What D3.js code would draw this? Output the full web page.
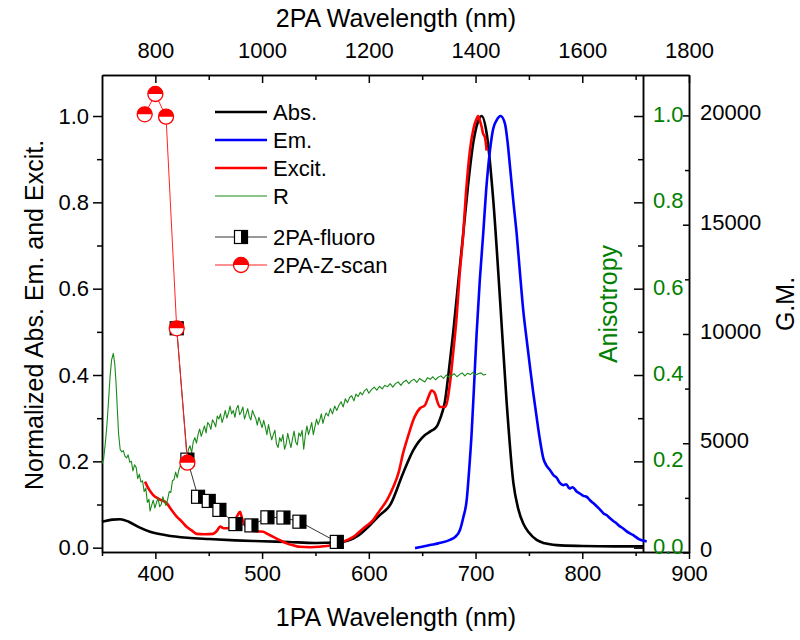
<!DOCTYPE html>
<html><head><meta charset="utf-8">
<script src="https://cdn.jsdelivr.net/npm/d3@7"></script>
<style>
body{margin:0;background:#fff;}
svg{font-family:"Liberation Sans",Arial,sans-serif;}
</style></head><body>
<svg id="c" width="800" height="640"></svg>
<script>
// ---- data ----
const absWl=[350,360,367,375,385,395,410,430,450,475,500,525,550,570,580,590,601,610,620,632,641.7,652.6,658,663.5,667,671.4,675,679,684,688.5,693,698,702,705.7,710.4,716.6,723,729,735.5,740,744.7,750,757.2,765,776,800,830,857];
const absVal=[0.06,0.065,0.066,0.06,0.047,0.037,0.029,0.023,0.02,0.017,0.015,0.013,0.011,0.012,0.016,0.028,0.052,0.075,0.099,0.172,0.226,0.261,0.27,0.28,0.30,0.34,0.41,0.497,0.62,0.728,0.84,0.94,0.985,1.0,0.96,0.805,0.573,0.342,0.149,0.09,0.056,0.035,0.018,0.01,0.006,0.004,0.003,0.003];

const emWl=[643.3,650,657.3,665,676,681,685.4,688.5,691.7,694,696.3,698.5,701,704,707.2,710,713.5,716.5,719.7,723.5,727.6,730,732.3,735.5,738.5,741.5,744.7,748,751,754,757.2,760,763.5,766.5,769.7,773,776,779,782.2,785,788,791,794.7,798,801,804,807.2,810,813,816,819.7,823,826,829,832.2,835,838,841,844.7,847,850,853,855,858,860.3];
const emVal=[-0.001,0.002,0.006,0.01,0.018,0.025,0.041,0.07,0.11,0.18,0.264,0.37,0.496,0.62,0.728,0.83,0.92,0.97,0.99,1.0,0.982,0.94,0.882,0.80,0.728,0.64,0.55,0.48,0.419,0.36,0.303,0.255,0.207,0.19,0.18,0.168,0.162,0.15,0.145,0.147,0.137,0.14,0.13,0.125,0.12,0.118,0.11,0.104,0.097,0.09,0.08,0.075,0.068,0.062,0.056,0.05,0.045,0.039,0.033,0.03,0.025,0.02,0.018,0.016,0.014];

const exWl=[390.3,394,398,404,410.6,415,420,425,429,434,438.7,446,454,458,460.6,464,468,472,474.6,477,479.3,481,483,488.7,495,501,505,510.5,517,523,530,535.5,545,554,560,566.7,575,585.5,595,604,610.5,617,623,628,632,637,641.7,648,652.6,656,658.8,662,664,666.7,671.4,676,679,682.3,685,688.5,691,694.7,698,700.4,702.5,704,705.7,707,708.8,710.4];
const exVal=[0.153,0.135,0.122,0.112,0.103,0.088,0.072,0.06,0.049,0.04,0.032,0.031,0.032,0.04,0.049,0.045,0.045,0.055,0.064,0.075,0.083,0.07,0.056,0.041,0.038,0.037,0.032,0.025,0.017,0.01,0.005,0.002,0.001,0.002,0.004,0.006,0.013,0.025,0.045,0.064,0.087,0.11,0.141,0.175,0.218,0.26,0.296,0.323,0.33,0.35,0.364,0.357,0.34,0.326,0.326,0.38,0.45,0.535,0.63,0.728,0.82,0.92,0.97,0.99,1.0,0.99,0.975,0.96,0.951,0.92];

// anisotropy R: [wavelength, value]
const rData=[[350,0.195],[351.5,0.205],[353,0.24],[354.5,0.28],[356,0.335],[357.5,0.395],[359,0.435],[360.6,0.45],[362,0.425],[363.2,0.38],[364.5,0.315],[365.5,0.265],[367,0.228],[368.5,0.222],[370,0.225],[371.5,0.212],[373,0.208],[374.5,0.215],[376,0.198],[377.5,0.2],[379,0.178],[380.5,0.192],[382,0.186],[383.5,0.16],[385,0.17],[386.5,0.152],[388,0.155],[389.5,0.13],[391,0.138],[392.5,0.105],[394,0.112],[395,0.085],[396.5,0.098],[398,0.11],[399.5,0.092],[401,0.104],[402.5,0.115],[404,0.095],[405.5,0.1],[407,0.118],[408.5,0.105],[410,0.098],[411.5,0.112],[413,0.13],[414.5,0.128],[416,0.155],[417.5,0.158],[419,0.175],[420.5,0.162],[422,0.18],[423.5,0.19],[425,0.185],[426.5,0.205],[428,0.21],[429.5,0.2],[431,0.228],[432.5,0.236],[434,0.22],[435.5,0.245],[437,0.255],[438.5,0.242],[440,0.262],[441.5,0.275],[443,0.258],[444.5,0.27],[446,0.282],[447.5,0.266],[449,0.29],[450.5,0.285],[452,0.274],[453.5,0.296],[455,0.29],[456.5,0.28],[458,0.305],[459.5,0.298],[461,0.31],[462.5,0.29],[464,0.302],[465.5,0.318],[467,0.3],[468.5,0.312],[470,0.328],[471.5,0.31],[473,0.318],[474.5,0.302],[476,0.322],[477.5,0.33],[479,0.308],[480.5,0.315],[482,0.326],[483.5,0.298],[485,0.31],[486.5,0.322],[488,0.304],[489.5,0.296],[491,0.318],[492.5,0.308],[494,0.3],[495.5,0.284],[497,0.302],[498.5,0.29],[500,0.278],[501.5,0.295],[503,0.28],[504.5,0.262],[506,0.285],[507.5,0.266],[509,0.25],[510.5,0.262],[512,0.272],[513.5,0.24],[515,0.232],[516.5,0.255],[518,0.246],[519.5,0.262],[521,0.228],[522.5,0.24],[524,0.265],[525.5,0.248],[527,0.232],[528.5,0.252],[530,0.27],[531.5,0.245],[533,0.238],[534.5,0.266],[536,0.258],[537.5,0.272],[539,0.228],[540.5,0.26],[542,0.282],[543.5,0.262],[545,0.275],[546.5,0.29],[548,0.262],[549.5,0.28],[551,0.298],[552.5,0.285],[554,0.295],[555.5,0.31],[557,0.288],[558.5,0.302],[560,0.312],[562,0.305],[564,0.322],[566,0.31],[568,0.328],[570,0.318],[572,0.33],[574,0.338],[576,0.326],[578,0.345],[580,0.336],[582,0.348],[584,0.352],[586,0.34],[588,0.356],[590,0.35],[592,0.36],[594,0.354],[596,0.364],[598,0.368],[600,0.358],[602.5,0.366],[605,0.372],[607.5,0.365],[610,0.374],[612.5,0.368],[615,0.376],[617.5,0.373],[620,0.38],[622.5,0.372],[625,0.38],[627.5,0.384],[630,0.376],[632.5,0.384],[635,0.388],[637.5,0.38],[640,0.387],[642.5,0.39],[645,0.383],[647.5,0.392],[650,0.388],[652.5,0.384],[655,0.394],[657.5,0.39],[660,0.396],[662.5,0.389],[665,0.395],[667.5,0.398],[670,0.392],[672.5,0.4],[675,0.395],[677.5,0.399],[680,0.403],[682.5,0.396],[685,0.401],[687.5,0.405],[690,0.398],[692.5,0.404],[695,0.401],[697.5,0.406],[700,0.4],[702.5,0.403],[705,0.405],[707.5,0.4],[710,0.402]];

const fluoroWl=[840,860,880,900,920,950,980,1010,1040,1070,1140];
const fluoroGM=[10260,4250,2550,2360,1950,1300,1240,1610,1600,1410,485];
const zscanWl=[780,800,820,840,860];
const zscanGM=[20050,20980,19945,10260,4110];

const legendLines=["Abs.","Em.","Excit.","R"];
const legendMarkers=["2PA-fluoro","2PA-Z-scan"];
const bottomTicks=[400,500,600,700,800,900];
const topTicks=[800,1000,1200,1400,1600,1800];
const leftTicks=[0,0.2,0.4,0.6,0.8,1.0];
const gmTicks=[0,5000,10000,15000,20000];

// ---- scales ----
const L=102,R=689,RA=643,T=75,B=552;
const x=d3.scaleLinear().domain([350,900]).range([L,R]);
const xTop=d3.scaleLinear().domain([700,1800]).range([L,R]);
const y=d3.scaleLinear().domain([-0.01,1.095]).range([B,T]);
const yGM=d3.scaleLinear().domain([0,21850]).range([552.5,T]);

const svg=d3.select("#c");
const green="#008000";
const tf='"Liberation Sans",Arial,sans-serif';

function styleAxis(g,color){
  g.selectAll("path,line").attr("stroke",color||"#000").attr("stroke-width",1.5);
  g.selectAll("text").attr("font-size",22).attr("fill",color||"#000").attr("font-family",tf);
}

// bottom
let g=svg.append("g").attr("transform",`translate(0,${B})`)
  .call(d3.axisBottom(x).tickValues(bottomTicks).tickSizeInner(7).tickSizeOuter(0).tickPadding(6).tickFormat(d3.format("d")));
styleAxis(g);
g=svg.append("g").attr("transform",`translate(0,${B})`)
  .call(d3.axisBottom(x).tickValues([350,450,550,650,750,850]).tickSizeInner(4).tickSizeOuter(0).tickFormat(""));
styleAxis(g);
// top
g=svg.append("g").attr("transform",`translate(0,${T})`)
  .call(d3.axisTop(xTop).tickValues(topTicks).tickSizeInner(-8).tickSizeOuter(0).tickPadding(17).tickFormat(d3.format("d")));
styleAxis(g);
g=svg.append("g").attr("transform",`translate(0,${T})`)
  .call(d3.axisTop(xTop).tickValues([900,1100,1300,1500,1700]).tickSizeInner(-5).tickSizeOuter(0).tickFormat(""));
styleAxis(g);
// left
g=svg.append("g").attr("transform",`translate(${L},0)`)
  .call(d3.axisLeft(y).tickValues(leftTicks).tickSizeInner(9).tickSizeOuter(0).tickPadding(4).tickFormat(d3.format(".1f")));
styleAxis(g);
g=svg.append("g").attr("transform",`translate(${L},0)`)
  .call(d3.axisLeft(y).tickValues([0.1,0.3,0.5,0.7,0.9]).tickSizeInner(5).tickSizeOuter(0).tickFormat(""));
styleAxis(g);
// anisotropy axis
g=svg.append("g").attr("transform",`translate(${RA},0)`)
  .call(d3.axisRight(y).tickValues(leftTicks).tickSizeInner(-9).tickSizeOuter(0).tickPadding(10).tickFormat(d3.format(".1f")));
styleAxis(g);
g.selectAll("text").attr("fill",green).attr("dy","0.25em");
g=svg.append("g").attr("transform",`translate(${RA},0)`)
  .call(d3.axisRight(y).tickValues([0.1,0.3,0.5,0.7,0.9]).tickSizeInner(-5).tickSizeOuter(0).tickFormat(""));
styleAxis(g);
// GM axis
g=svg.append("g").attr("transform",`translate(${R},0)`)
  .call(d3.axisRight(yGM).tickValues(gmTicks).tickSizeInner(-6).tickSizeOuter(0).tickPadding(11).tickFormat(d3.format("d")));
styleAxis(g);
g.selectAll("text").attr("dy","0.2em");
g=svg.append("g").attr("transform",`translate(${R},0)`)
  .call(d3.axisRight(yGM).tickValues([2500,7500,12500,17500]).tickSizeInner(-4).tickSizeOuter(0).tickFormat(""));
styleAxis(g);

// titles
svg.append("text").attr("x",396).attr("y",27).attr("text-anchor","middle").attr("font-size",25).attr("font-family",tf).text("2PA Wavelength (nm)");
svg.append("text").attr("x",396).attr("y",626).attr("text-anchor","middle").attr("font-size",25).attr("font-family",tf).text("1PA Wavelength (nm)");
svg.append("text").attr("transform","translate(43,315) rotate(-90)").attr("text-anchor","middle").attr("font-size",25).attr("font-family",tf).text("Normalized Abs. Em. and Excit.");
svg.append("text").attr("transform","translate(617,304) rotate(-90)").attr("text-anchor","middle").attr("font-size",25).attr("font-family",tf).attr("fill",green).text("Anisotropy");
svg.append("text").attr("transform","translate(794,304) rotate(-90)").attr("text-anchor","middle").attr("font-size",25).attr("font-family",tf).text("G.M.");

// curves
function drawCurve(pts,color,w,curve){
  svg.append("path").datum(pts).attr("fill","none").attr("stroke",color).attr("stroke-width",w)
    .attr("stroke-linejoin","round").attr("d",d3.line().curve(curve).x(d=>x(d[0])).y(d=>y(d[1])));
}
const zip=(a,b)=>a.map((d,i)=>[d,b[i]]);
drawCurve(zip(absWl,absVal),"#000",2.6,d3.curveMonotoneX);
drawCurve(zip(emWl,emVal),"#0000ff",2.6,d3.curveMonotoneX);
drawCurve(zip(exWl,exVal),"#ff0000",2.6,d3.curveMonotoneX);
drawCurve(rData,"#1a8a1a",1.1,d3.curveLinear);

// 2PA data
const fl=zip(fluoroWl,fluoroGM);
const zs=zip(zscanWl,zscanGM);
const line2=d3.line().x(d=>xTop(d[0])).y(d=>yGM(d[1]));
svg.append("path").datum(fl).attr("fill","none").attr("stroke","#333").attr("stroke-width",1).attr("d",line2);
function square(sel){
  sel.append("rect").attr("x",-6.5).attr("y",-6.5).attr("width",13).attr("height",13).attr("fill","#fff").attr("stroke","#000").attr("stroke-width",1.2);
  sel.append("rect").attr("x",0).attr("y",-6.5).attr("width",6.5).attr("height",13).attr("fill","#000");
}
svg.selectAll("g.fl").data(fl).join("g").attr("class","fl")
  .attr("transform",d=>`translate(${xTop(d[0])},${yGM(d[1])})`).call(square);
svg.append("path").datum(zs).attr("fill","none").attr("stroke","#f22").attr("stroke-width",1).attr("d",line2);
function circ(sel){
  sel.append("circle").attr("r",7.5).attr("fill","#fff").attr("stroke","#f00").attr("stroke-width",1.3);
  sel.append("path").attr("d","M-7.5,0 A7.5,7.5 0 0 1 7.5,0 Z").attr("fill","#f00");
}
svg.selectAll("g.zs").data(zs).join("g").attr("class","zs")
  .attr("transform",d=>`translate(${xTop(d[0])},${yGM(d[1])})`).call(circ);

// legend
const lgColors=["#000","#0000ff","#ff0000","#1a8a1a"];
const lgW=[2.6,2.6,2.6,1.1];
legendLines.forEach((t,i)=>{
  const yy=112+i*28;
  svg.append("line").attr("x1",215).attr("x2",267).attr("y1",yy).attr("y2",yy).attr("stroke",lgColors[i]).attr("stroke-width",lgW[i]);
  svg.append("text").attr("x",273).attr("y",yy).attr("dy","0.35em").attr("font-size",22).attr("font-family",tf).text(t);
});
legendMarkers.forEach((t,i)=>{
  const yy=237+i*28;
  svg.append("line").attr("x1",215).attr("x2",267).attr("y1",yy).attr("y2",yy).attr("stroke",i?"#f22":"#333").attr("stroke-width",1);
  const mg=svg.append("g").attr("transform",`translate(241,${yy})`);
  if(i===0) square(mg); else circ(mg);
  svg.append("text").attr("x",273).attr("y",yy).attr("dy","0.35em").attr("font-size",22).attr("font-family",tf).text(t);
});
</script>
</body></html>
